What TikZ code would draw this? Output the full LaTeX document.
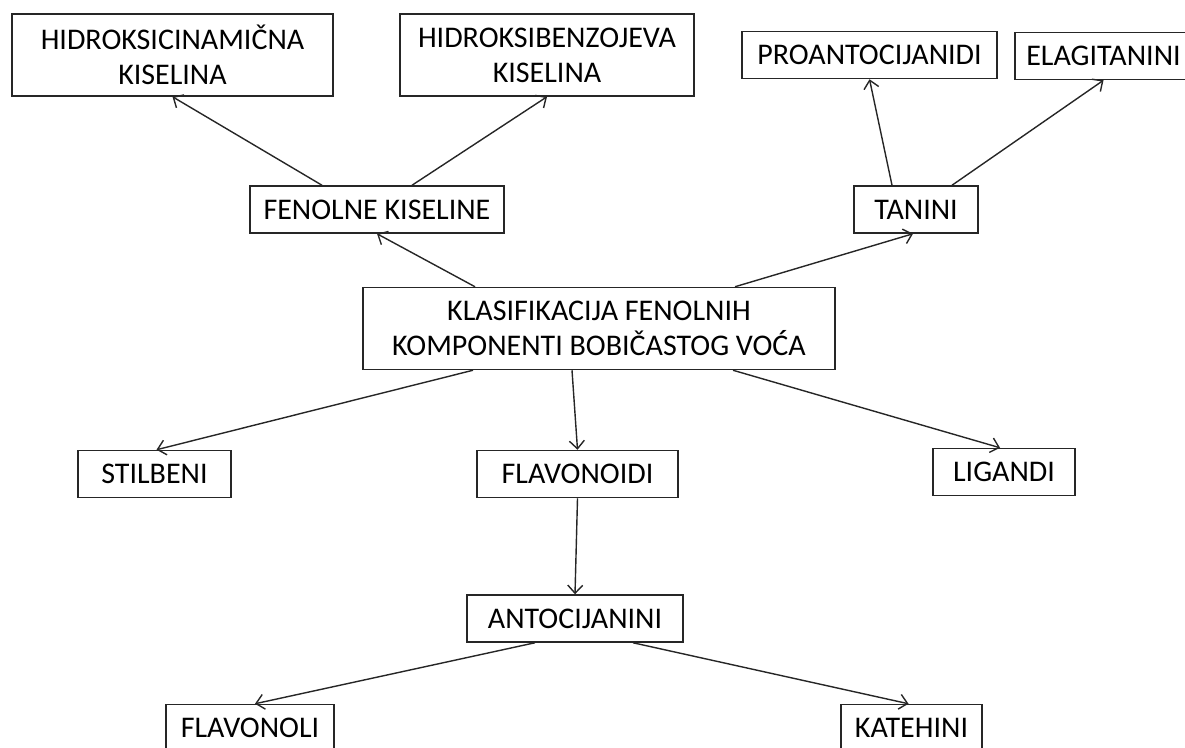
\documentclass[tikz,border=0pt]{standalone}
\usepackage{fontspec}
\setmainfont{Carlito}
\usetikzlibrary{arrows.meta}

\begin{document}
\begin{tikzpicture}[x=1pt,y=-1pt,>={Straight Barb[length=8pt,width=15pt]},
  box/.style={draw=black!85,line width=1.5pt,inner sep=0pt,align=center,
    minimum height=47pt,font=\fontsize{30}{35}\selectfont},
  boxtwo/.style={box,minimum height=82pt}]
\useasboundingbox (0,0) rectangle (1185,747);
  \node[boxtwo,minimum width=321pt] (HC)  at (172.5,55)  {HIDROKSICINAMIČNA\\KISELINA};
  \node[boxtwo,minimum width=294pt] (HB)  at (547,55)    {HIDROKSIBENZOJEVA\\KISELINA};
  \node[box,minimum width=255pt]    (PA)  at (869.5,55)  {PROANTOCIJANIDI};
  \node[box,minimum width=177pt]    (EL)  at (1103.5,56) {ELAGITANINI};
  \node[box,minimum width=254pt]    (FK)  at (377,209.5) {FENOLNE KISELINE};
  \node[box,minimum width=124pt]    (TN)  at (916,209.5) {TANINI};
  \node[boxtwo,minimum width=472pt] (KL)  at (599,328.5) {KLASIFIKACIJA FENOLNIH\\KOMPONENTI BOBIČASTOG VOĆA};
  \node[box,minimum width=153pt]    (ST)  at (154.5,474) {STILBENI};
  \node[box,minimum width=201pt]    (FD)  at (577.5,474) {FLAVONOIDI};
  \node[box,minimum width=142pt]    (LG)  at (1004,472)  {LIGANDI};
  \node[box,minimum width=216pt]    (AC)  at (575,618.5) {ANTOCIJANINI};
  \node[box,minimum width=168pt]    (FL)  at (250,728)   {FLAVONOLI};
  \node[box,minimum width=141pt]    (KT)  at (911.5,728) {KATEHINI};
\tikzset{arr/.style={->,draw=black!85,line width=1.4pt}}
\path ([xshift=-55pt]FK.north)  edge [arr] (HC.south)
      ([xshift=35pt]FK.north)   edge [arr] (HB.south)
      ([xshift=-24pt]TN.north)  edge [arr] (PA.south)
      ([xshift=36pt]TN.north)   edge [arr] (EL.south);
\path ([xshift=-124pt]KL.north) edge [arr] (FK.south)
      ([xshift=136pt]KL.north)  edge [arr] ([xshift=-3pt]TN.south)
      ([xshift=-126pt]KL.south) edge [arr] ([xshift=2pt]ST.north)
      ([xshift=-27pt]KL.south)  edge [arr] (FD.north)
      ([xshift=134pt]KL.south)  edge [arr] ([xshift=-4pt]LG.north);
\path (FD.south)                edge [arr] (AC.north)
      ([xshift=-40pt]AC.south)  edge [arr] ([xshift=5pt]FL.north)
      ([xshift=58pt]AC.south)   edge [arr] ([xshift=-3pt]KT.north);
\end{tikzpicture}
\end{document}
